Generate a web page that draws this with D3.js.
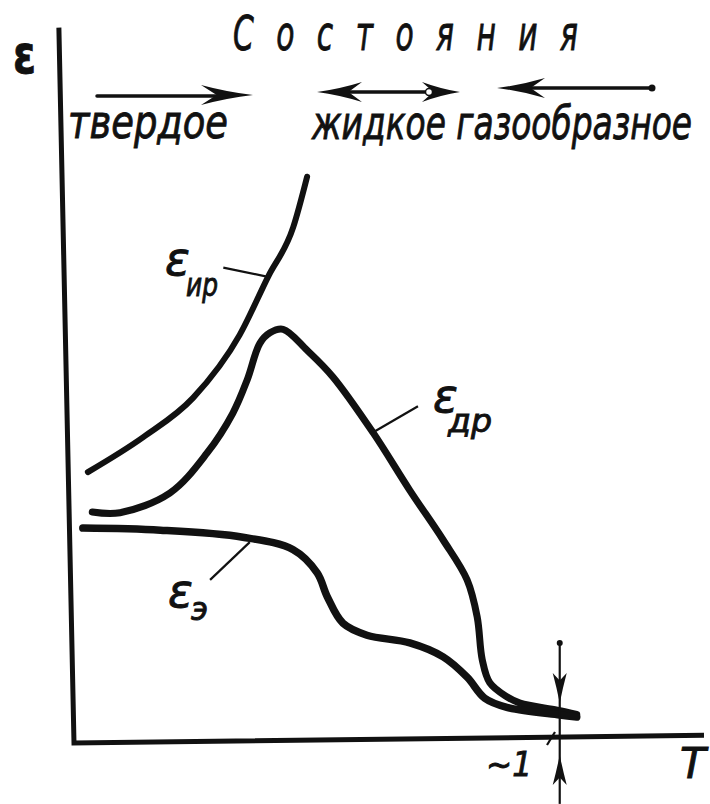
<!DOCTYPE html>
<html>
<head>
<meta charset="utf-8">
<script src="https://cdn.jsdelivr.net/npm/d3@7"></script>
<style>
  body { margin: 0; background: #fff; }
  svg { display: block; }
  text { font-family: "DejaVu Sans", sans-serif; fill: #111; stroke: #111; stroke-width: 0.9; }
</style>
</head>
<body>
<div id="chart"></div>
<script>
// curves, [T, eps] in arbitrary units
var epsIr = [[0.22, 3.87], [1.10, 4.37], [1.89, 4.93], [2.63, 5.83],
  [3.08, 6.66], [3.48, 7.37], [3.70, 8.09]];
var epsDr = [[0.29, 3.30], [0.73, 3.29], [1.52, 3.57], [2.11, 4.14], [2.52, 4.71],
  [2.75, 5.19], [2.95, 5.71], [3.11, 5.86], [3.32, 5.91], [3.70, 5.61], [4.11, 5.23],
  [4.75, 4.43], [5.33, 3.61], [5.86, 2.90], [6.24, 2.33], [6.40, 1.80], [6.48, 1.19],
  [6.60, 0.86], [6.87, 0.66], [7.08, 0.57], [7.67, 0.47], [7.98, 0.41]];
var epsE = [[0.14, 3.07], [1.37, 3.04], [2.68, 2.94], [3.48, 2.76], [3.86, 2.43],
  [4.02, 2.09], [4.27, 1.71], [4.65, 1.54], [5.33, 1.43], [5.86, 1.23], [6.24, 0.94],
  [6.52, 0.64], [6.87, 0.51], [7.71, 0.40], [7.98, 0.37]];
var tMark = 7.71;            // the "~1" point on T
var markSpan = [1.43, -0.87]; // vertical marker, eps range
var markTips = [0.57, -0.17]; // arrow tips of marker
var stateNames = ["твердое", "жидкое газообразное"];
var title = "Состояния";

var width = 710, height = 804;
var x = d3.scaleLinear().domain([0, 10]).range([74, 704]);
var y = d3.scaleLinear().domain([0, 10]).range([743, 43]);

var svg = d3.select("#chart").append("svg")
  .attr("width", width).attr("height", height);

var line = d3.line()
  .x(function(d) { return x(d[0]); })
  .y(function(d) { return y(d[1]); });

// axes (scan is a little skewed)
svg.append("path")
  .attr("d", line.curve(d3.curveLinear)([[-0.24, 10.22], [0, 0], [10, 0.11]]))
  .attr("fill", "none").attr("stroke", "#111").attr("stroke-width", 5)
  .attr("stroke-linejoin", "miter");

// curves
[[epsIr, 6, d3.curveMonotoneX], [epsDr, 7, d3.curveCatmullRom.alpha(0.5)],
 [epsE, 7.5, d3.curveCatmullRom.alpha(0.5)]].forEach(function(c) {
  svg.append("path")
    .attr("d", line.curve(c[2])(c[0]))
    .attr("fill", "none").attr("stroke", "#111")
    .attr("stroke-width", c[1]).attr("stroke-linecap", "round");
});

// leaders
var leaders = [[[2.37, 6.79], [3.08, 6.66]], [[4.75, 4.44], [5.46, 4.81]], [[2.16, 2.33], [2.79, 2.87]]];
leaders.forEach(function(l) {
  svg.append("path").attr("d", d3.line()(l.map(function(p) { return [x(p[0]), y(p[1])]; })))
    .attr("stroke", "#111").attr("stroke-width", 2.2);
});

function label(px, py, sub, sx, sy, subLen) {
  svg.append("text").attr("x", px).attr("y", py)
    .attr("font-size", 46).attr("font-style", "italic").text("ε");
  svg.append("text").attr("x", sx).attr("y", sy)
    .attr("font-size", 32).attr("font-style", "italic")
    .attr("textLength", subLen).attr("lengthAdjust", "spacingAndGlyphs").text(sub);
}
label(165, 275, "ир", 186, 296, 32);
label(433, 412, "др", 448, 432, 44);
label(168, 607, "э", 191, 620, 17);

// marker at T ~ 1
svg.append("line")
  .attr("x1", x(tMark)).attr("x2", x(tMark))
  .attr("y1", y(markSpan[0])).attr("y2", y(markSpan[1]))
  .attr("stroke", "#111").attr("stroke-width", 2.2);
svg.append("circle").attr("cx", x(tMark)).attr("cy", y(markSpan[0])).attr("r", 3).attr("fill", "#111");
function vHead(tx, ty, dir) {
  var L = 30 * dir;
  svg.append("path")
    .attr("d", "M" + tx + "," + ty + " Q" + (tx - 3) + "," + (ty - L * 0.5) + " " + (tx - 7) + "," + (ty - L) +
      " L" + tx + "," + (ty - L * 0.75) + " L" + (tx + 7) + "," + (ty - L) +
      " Q" + (tx + 3) + "," + (ty - L * 0.5) + " " + tx + "," + ty + "Z")
    .attr("fill", "#111");
}
vHead(x(tMark), y(markTips[0]), 1);
vHead(x(tMark), y(markTips[1]), -1);
svg.append("line").attr("x1", 547).attr("y1", 745).attr("x2", 555).attr("y2", 732)
  .attr("stroke", "#111").attr("stroke-width", 2.2);

svg.append("text").attr("x", 486).attr("y", 776).attr("font-size", 34)
  .attr("font-style", "italic").attr("textLength", 46).attr("lengthAdjust", "spacingAndGlyphs").text("~1");
svg.append("text").attr("x", 680).attr("y", 778).attr("font-size", 42)
  .attr("font-style", "italic").text("T");

// top labels
svg.append("text").attr("x", 13).attr("y", 73).attr("font-size", 54)
  .attr("font-weight", "bold").attr("textLength", 23).attr("lengthAdjust", "spacingAndGlyphs").text("ε");

// condensed italic text: squeeze the group, stretch the text back to length
function squeezed(txt, px, py, len, sx, adjust) {
  svg.append("g").attr("transform", "translate(" + px + "," + py + ") scale(" + sx + ",1)")
    .append("text").attr("x", 0).attr("y", 0).attr("font-size", 48 - (adjust === "spacing" ? 0 : 2))
    .attr("font-style", "italic").attr("textLength", len / sx).attr("lengthAdjust", adjust)
    .text(txt);
}
squeezed(title, 233, 50, 345, 0.62, "spacing");
squeezed(stateNames[0], 68, 138, 160, 0.8, "spacingAndGlyphs");
squeezed(stateNames[1], 312, 139, 380, 0.72, "spacingAndGlyphs");

// state arrows
function hHead(tx, ty, dir, len) {
  var L = len * dir;
  svg.append("path")
    .attr("d", "M" + tx + "," + ty + " Q" + (tx - L * 0.5) + "," + (ty - 3) + " " + (tx - L) + "," + (ty - 10) +
      " L" + (tx - L * 0.7) + "," + ty + " L" + (tx - L) + "," + (ty + 10) +
      " Q" + (tx - L * 0.5) + "," + (ty + 3) + " " + tx + "," + ty + "Z")
    .attr("fill", "#111");
}
function shaft(x1, x2, yy) {
  svg.append("line").attr("x1", x1).attr("x2", x2).attr("y1", yy).attr("y2", yy)
    .attr("stroke", "#111").attr("stroke-width", 3.5).attr("stroke-linecap", "round");
}
shaft(97, 230, 96); hHead(253, 95, 1, 52);
shaft(330, 440, 92); hHead(317, 92, -1, 45); hHead(460, 92, 1, 38);
svg.append("circle").attr("cx", 429).attr("cy", 92).attr("r", 3.5).attr("fill", "#fff")
  .attr("stroke", "#111").attr("stroke-width", 1.5);
shaft(515, 652, 88); hHead(497, 88, -1, 48);
svg.append("circle").attr("cx", 652).attr("cy", 88).attr("r", 3.5).attr("fill", "#111");
</script>
</body>
</html>
